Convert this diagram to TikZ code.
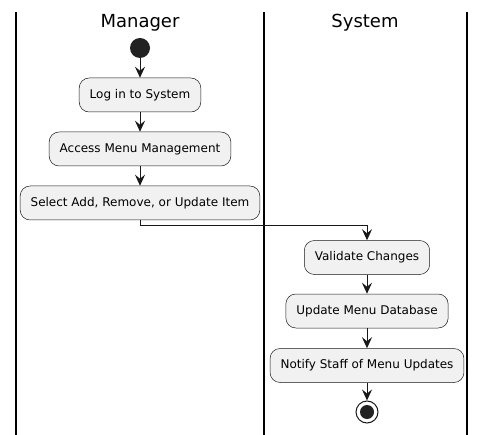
\documentclass[tikz,border=0pt]{standalone}
\usepackage{fontspec}
\setmainfont{DejaVu Sans}
\usetikzlibrary{arrows.meta}
\definecolor{umlline}{HTML}{181818}
\definecolor{umlfill}{HTML}{F1F1F1}
\definecolor{umldot}{HTML}{222222}
\tikzset{
  action/.style={draw=umlline, line width=0.5pt, fill=umlfill, rounded corners=10pt,
    minimum height=34pt, inner xsep=10.5pt, font=\fontsize{12}{14}\selectfont},
  flow/.style={draw=umlline, line width=1pt, -{Stealth[length=11pt, width=10pt, inset=4pt]}},
  lane/.style={draw=black, line width=1.5pt},
  lanetitle/.style={font=\fontsize{18}{21}\selectfont}
}
\begin{document}
\begin{tikzpicture}[x=1pt, y=-1pt]
    \useasboundingbox[fill=white] (0,0) rectangle (486,435);
    % swimlanes
    \draw[lane] (16,12) -- (16,435);
    \draw[lane] (264,12) -- (264,435);
    \draw[lane] (467,12) -- (467,435);
    \node[lanetitle] (mgr) at (140,23) {Manager};
    \node[lanetitle] (sys) at (365,23) {System};

    \node[circle, fill=umldot, minimum size=20pt, inner sep=0pt] (start) at (140,48) {};
    \node[action] (login) at (140,95) {Log in to System};
    \node[action] (access) at (140,149) {Access Menu Management};
    \node[action] (select) at (140,203) {Select Add, Remove, or Update Item};

    \node[action] (validate) at (367,257.5) {Validate Changes};
    \node[action] (update) at (367,311) {Update Menu Database};
    \node[action] (notify) at (367,365.5) {Notify Staff of Menu Updates};
    \node[circle, draw=umlline, line width=1pt, fill=white, minimum size=22pt, inner sep=0pt] (stop) at (367,412) {};
    \fill[umldot] (stop.center) circle (7pt);

    \draw[flow] (start) -- (login);
    \draw[flow] (login) -- (access);
    \draw[flow] (access) -- (select);
    \draw[flow] (select.south) -- ++(0,5) -| (validate.north);
    \draw[flow] (validate) -- (update);
    \draw[flow] (update) -- (notify);
    \draw[flow] (notify) -- (stop);
\end{tikzpicture}
\end{document}
